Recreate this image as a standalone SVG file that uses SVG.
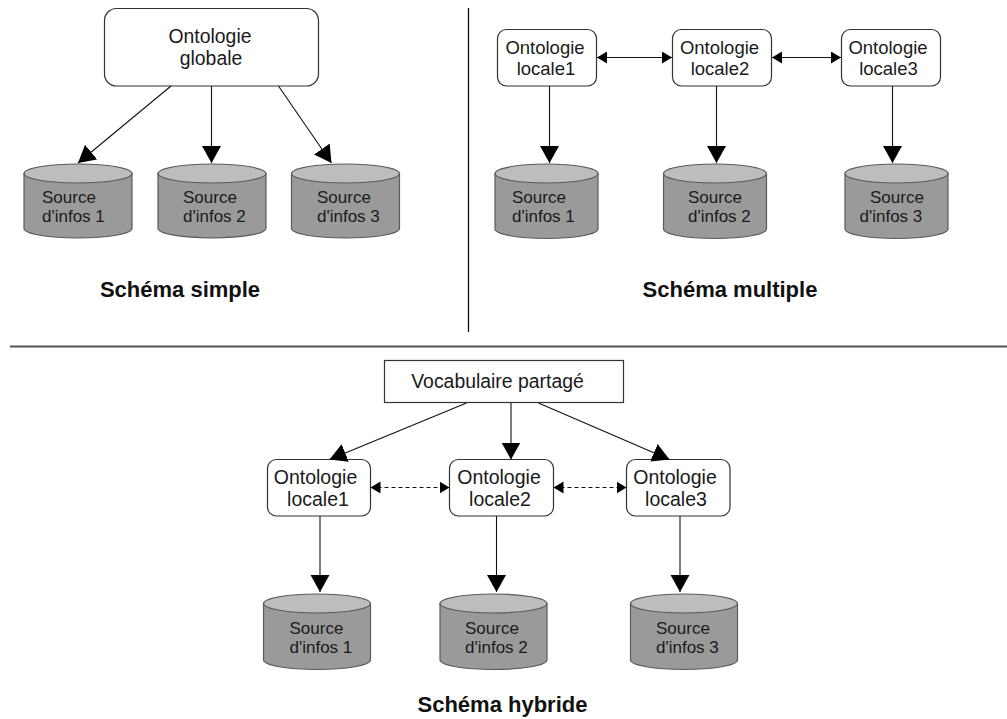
<svg xmlns="http://www.w3.org/2000/svg" width="1007" height="719" viewBox="0 0 1007 719">
  <style>
    .box { fill: #ffffff; stroke: #333333; stroke-width: 1.2; }
    .lbl { font-family: "Liberation Sans", Arial, sans-serif; fill: #1a1a1a; text-anchor: middle; }
    .src { font-family: "Liberation Sans", Arial, sans-serif; fill: #1a1a1a; font-size: 17px; }
    .title { font-family: "Liberation Sans", Arial, sans-serif; font-weight: bold; font-size: 22px; fill: #111111; text-anchor: middle; }
    .body { fill: #9a9a9a; stroke: #5a5a5a; stroke-width: 1.2; }
    .cap { fill: #bdbdbd; stroke: #5a5a5a; stroke-width: 1.2; }
    .edge { stroke: #111111; stroke-width: 1.1; fill: none; }
    .dash { stroke-dasharray: 4 3; }
    .sep { stroke: #111111; stroke-width: 1.3; }
  </style>
  <defs>
    <marker id="big" markerUnits="userSpaceOnUse" markerWidth="18" markerHeight="20" refX="17" refY="9.5" orient="auto">
      <path d="M0,0 L17,9.5 L0,19 Z" fill="#000000"/>
    </marker>
    <marker id="small" markerUnits="userSpaceOnUse" markerWidth="11" markerHeight="13" refX="10" refY="6" orient="auto-start-reverse">
      <path d="M0,0 L10,6 L0,12 Z" fill="#000000"/>
    </marker>
  </defs>

  <rect width="1007" height="719" fill="#ffffff"/>

  <!-- section separators -->
  <g id="separators">
    <line class="sep" x1="468.5" y1="8" x2="468.5" y2="332"/>
    <line x1="10" y1="346.5" x2="1007" y2="346.5" stroke="#555555" stroke-width="1.8"/>
  </g>

  <!-- ===== Schéma simple ===== -->
  <g id="ontologie-globale">
    <rect class="box" x="104.5" y="8.5" width="214" height="77.5" rx="12"/>
    <text class="lbl" font-size="19.4" x="210" y="43">Ontologie</text>
    <text class="lbl" font-size="19.4" x="211" y="65">globale</text>
  </g>
  <g id="simple-source1">
    <path class="body" d="M24,173.5 V228.5 A54,9.5 0 0 0 132,228.5 V173.5 Z"/>
    <ellipse class="cap" cx="78" cy="173.5" rx="54" ry="9.5"/>
    <text class="src" x="42" y="202.5">Source</text>
    <text class="src" x="42" y="222">d'infos 1</text>
  </g>
  <g id="simple-source2">
    <path class="body" d="M158,173.5 V228.5 A54,9.5 0 0 0 266,228.5 V173.5 Z"/>
    <ellipse class="cap" cx="212" cy="173.5" rx="54" ry="9.5"/>
    <text class="src" x="183" y="202.5">Source</text>
    <text class="src" x="183" y="222">d'infos 2</text>
  </g>
  <g id="simple-source3">
    <path class="body" d="M291.5,173.5 V228.5 A54,9.5 0 0 0 399.5,228.5 V173.5 Z"/>
    <ellipse class="cap" cx="345.5" cy="173.5" rx="54" ry="9.5"/>
    <text class="src" x="317" y="202.5">Source</text>
    <text class="src" x="317" y="222">d'infos 3</text>
  </g>
  <text class="title" x="180" y="297">Schéma simple</text>

  <!-- ===== Schéma multiple ===== -->
  <g id="multi-locale1">
    <rect class="box" x="497.5" y="29.5" width="99" height="56.5" rx="9"/>
    <text class="lbl" font-size="18.5" x="545" y="54">Ontologie</text>
    <text class="lbl" font-size="18.5" x="546" y="75">locale1</text>
  </g>
  <g id="multi-locale2">
    <rect class="box" x="672.5" y="29.5" width="99" height="56.5" rx="9"/>
    <text class="lbl" font-size="18.5" x="719.5" y="54">Ontologie</text>
    <text class="lbl" font-size="18.5" x="720" y="75">locale2</text>
  </g>
  <g id="multi-locale3">
    <rect class="box" x="841.5" y="29.5" width="99" height="56.5" rx="9"/>
    <text class="lbl" font-size="18.5" x="888" y="54">Ontologie</text>
    <text class="lbl" font-size="18.5" x="888.5" y="75">locale3</text>
  </g>
  <g id="multi-source1">
    <path class="body" d="M495,173.5 V229 A51.5,9.5 0 0 0 598,229 V173.5 Z"/>
    <ellipse class="cap" cx="546.5" cy="173.5" rx="51.5" ry="9.5"/>
    <text class="src" font-size="16.5" x="512" y="202.5">Source</text>
    <text class="src" font-size="16.5" x="512" y="222">d'infos 1</text>
  </g>
  <g id="multi-source2">
    <path class="body" d="M663.5,173.5 V229 A51.5,9.5 0 0 0 766.5,229 V173.5 Z"/>
    <ellipse class="cap" cx="715" cy="173.5" rx="51.5" ry="9.5"/>
    <text class="src" font-size="16.5" x="688" y="202.5">Source</text>
    <text class="src" font-size="16.5" x="688" y="222">d'infos 2</text>
  </g>
  <g id="multi-source3">
    <path class="body" d="M845,173.5 V229 A51.5,9.5 0 0 0 948,229 V173.5 Z"/>
    <ellipse class="cap" cx="896.5" cy="173.5" rx="51.5" ry="9.5"/>
    <text class="src" font-size="16.5" x="870" y="202.5">Source</text>
    <text class="src" font-size="16.5" x="859.5" y="222">d'infos 3</text>
  </g>
  <text class="title" x="730" y="297">Schéma multiple</text>

  <!-- ===== Schéma hybride ===== -->
  <g id="vocabulaire">
    <rect class="box" x="384.5" y="360.5" width="239" height="42"/>
    <text class="lbl" font-size="19.4" x="497.5" y="388">Vocabulaire partagé</text>
  </g>
  <g id="hyb-locale1">
    <rect class="box" x="267.5" y="459.5" width="103" height="56.5" rx="9"/>
    <text class="lbl" font-size="19.5" x="315.5" y="483.5">Ontologie</text>
    <text class="lbl" font-size="19.5" x="318" y="506">locale1</text>
  </g>
  <g id="hyb-locale2">
    <rect class="box" x="449.5" y="459.5" width="104" height="56.5" rx="9"/>
    <text class="lbl" font-size="19.5" x="499" y="483.5">Ontologie</text>
    <text class="lbl" font-size="19.5" x="500" y="506">locale2</text>
  </g>
  <g id="hyb-locale3">
    <rect class="box" x="626.5" y="459.5" width="103.5" height="56.5" rx="9"/>
    <text class="lbl" font-size="19.5" x="675" y="483.5">Ontologie</text>
    <text class="lbl" font-size="19.5" x="676" y="506">locale3</text>
  </g>
  <g id="hyb-source1">
    <path class="body" d="M263.5,603.5 V660 A53.5,9.5 0 0 0 370.5,660 V603.5 Z"/>
    <ellipse class="cap" cx="317" cy="603.5" rx="53.5" ry="9.5"/>
    <text class="src" x="289.5" y="633.5">Source</text>
    <text class="src" x="289.5" y="653">d'infos 1</text>
  </g>
  <g id="hyb-source2">
    <path class="body" d="M440,603.5 V660 A53.5,9.5 0 0 0 547,660 V603.5 Z"/>
    <ellipse class="cap" cx="493.5" cy="603.5" rx="53.5" ry="9.5"/>
    <text class="src" x="465" y="633.5">Source</text>
    <text class="src" x="465" y="653">d'infos 2</text>
  </g>
  <g id="hyb-source3">
    <path class="body" d="M630.5,603.5 V660 A53.5,9.5 0 0 0 737.5,660 V603.5 Z"/>
    <ellipse class="cap" cx="684" cy="603.5" rx="53.5" ry="9.5"/>
    <text class="src" x="656" y="633.5">Source</text>
    <text class="src" x="656" y="653">d'infos 3</text>
  </g>
  <text class="title" x="502.5" y="712">Schéma hybride</text>

  <!-- connectors -->
  <g id="connectors">
    <!-- simple -->
    <line class="edge" x1="171" y1="86" x2="78" y2="163" marker-end="url(#big)"/>
    <line class="edge" x1="211.5" y1="86" x2="211.5" y2="163" marker-end="url(#big)"/>
    <line class="edge" x1="278.5" y1="86" x2="331.5" y2="163" marker-end="url(#big)"/>
    <!-- multiple -->
    <line class="edge" x1="597" y1="57.5" x2="672" y2="57.5" marker-start="url(#small)" marker-end="url(#small)"/>
    <line class="edge" x1="772" y1="57.5" x2="841" y2="57.5" marker-start="url(#small)" marker-end="url(#small)"/>
    <line class="edge" x1="549.5" y1="86" x2="549.5" y2="163" marker-end="url(#big)"/>
    <line class="edge" x1="716.5" y1="86" x2="716.5" y2="163" marker-end="url(#big)"/>
    <line class="edge" x1="892.5" y1="86" x2="892.5" y2="163" marker-end="url(#big)"/>
    <!-- hybride -->
    <line class="edge" x1="466.5" y1="403" x2="329.5" y2="459.5" marker-end="url(#big)"/>
    <line class="edge" x1="511" y1="403" x2="511" y2="459.5" marker-end="url(#big)"/>
    <line class="edge" x1="538.5" y1="403" x2="669.5" y2="459.5" marker-end="url(#big)"/>
    <line class="edge dash" x1="370.5" y1="487.5" x2="449.5" y2="487.5" marker-start="url(#small)" marker-end="url(#small)"/>
    <line class="edge dash" x1="553.5" y1="487.5" x2="626.5" y2="487.5" marker-start="url(#small)" marker-end="url(#small)"/>
    <line class="edge" x1="320" y1="516" x2="320" y2="592" marker-end="url(#big)"/>
    <line class="edge" x1="496.5" y1="516" x2="496.5" y2="592" marker-end="url(#big)"/>
    <line class="edge" x1="680" y1="516" x2="680" y2="592" marker-end="url(#big)"/>
  </g>
</svg>
